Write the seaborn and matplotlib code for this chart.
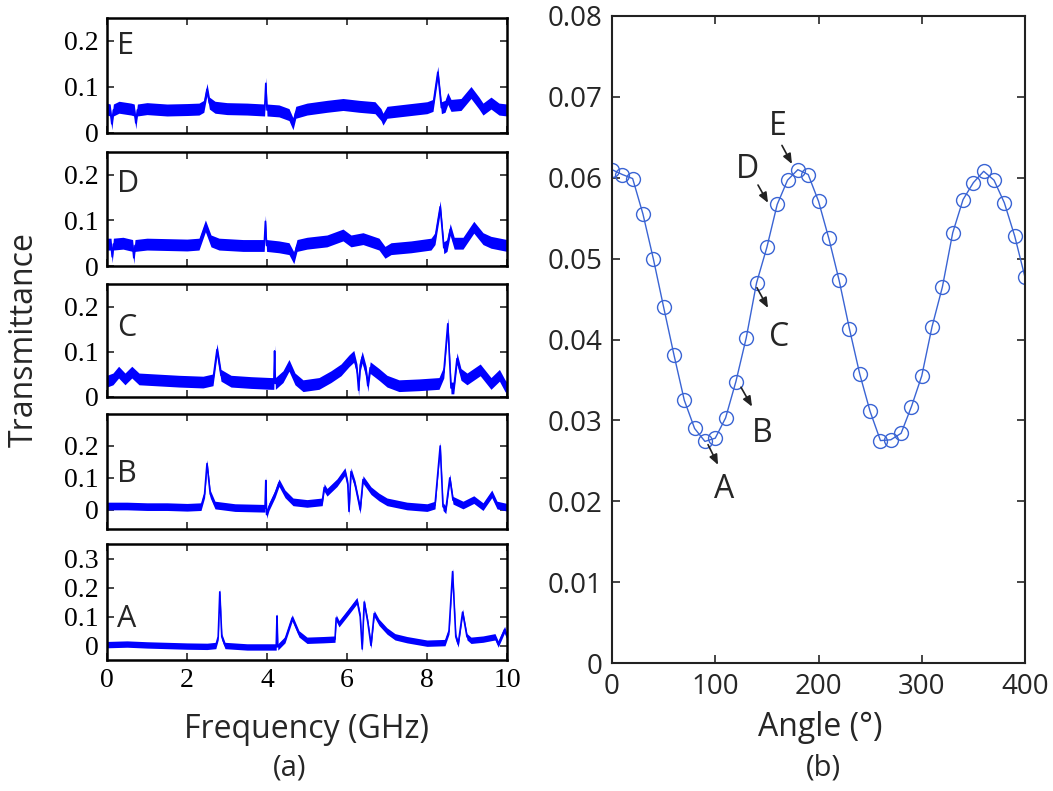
import numpy as np
import matplotlib
matplotlib.use("Agg")
import matplotlib.pyplot as plt
import seaborn as sns

# ---------------------------------
# Data
# ---------------------------------

freq_E = [0.0, 0.08, 0.12, 0.16, 0.3, 0.6, 0.68, 0.72, 0.76, 1.0, 1.5, 2.0, 2.3, 2.42, 2.5, 2.56, 2.7, 3.0,
          3.5, 3.94, 3.97, 4.0, 4.3, 4.55, 4.65, 4.72, 5.0, 5.5, 5.9, 6.3, 6.7, 6.85, 6.9, 7.0, 7.5, 8.0,
          8.15, 8.27, 8.36, 8.45, 8.52, 8.6, 8.85, 9.1, 9.3, 9.4, 9.6, 9.8, 10.0]
trans_E = [0.052, 0.05, 0.02, 0.05, 0.056, 0.052, 0.05, 0.022, 0.05, 0.053, 0.05, 0.051, 0.052, 0.058, 0.095,
           0.065, 0.056, 0.053, 0.052, 0.05, 0.108, 0.05, 0.048, 0.04, 0.02, 0.045, 0.052, 0.058, 0.062, 0.058,
           0.055, 0.04, 0.03, 0.045, 0.05, 0.055, 0.06, 0.132, 0.055, 0.058, 0.075, 0.06, 0.062, 0.088, 0.065,
           0.052, 0.065, 0.052, 0.05]

freq_D = [0.0, 0.1, 0.13, 0.16, 0.4, 0.64, 0.67, 0.7, 1.0, 1.5, 2.0, 2.3, 2.46, 2.6, 2.8, 3.4, 3.93, 3.96,
          3.99, 4.3, 4.55, 4.67, 4.75, 5.0, 5.5, 5.9, 6.1, 6.4, 6.8, 6.95, 7.1, 7.6, 8.1, 8.2, 8.33, 8.42,
          8.5, 8.58, 8.68, 8.9, 9.17, 9.4, 9.6, 10.0]
trans_D = [0.048, 0.048, 0.02, 0.048, 0.05, 0.045, 0.018, 0.045, 0.048, 0.047, 0.046, 0.048, 0.088, 0.055,
           0.048, 0.045, 0.045, 0.098, 0.045, 0.042, 0.038, 0.018, 0.045, 0.05, 0.055, 0.068, 0.055, 0.06,
           0.048, 0.03, 0.038, 0.042, 0.048, 0.06, 0.13, 0.04, 0.045, 0.08, 0.05, 0.05, 0.085, 0.06, 0.052,
           0.045]

freq_C = [0.0, 0.15, 0.29, 0.45, 0.62, 0.8, 1.2, 1.8, 2.4, 2.65, 2.75, 2.85, 3.1, 3.6, 4.1, 4.17, 4.19,
          4.21, 4.4, 4.55, 4.7, 4.9, 5.3, 5.6, 5.85, 6.05, 6.17, 6.25, 6.29, 6.33, 6.38, 6.48, 6.52, 6.58,
          6.8, 7.0, 7.3, 7.8, 8.3, 8.42, 8.52, 8.6, 8.67, 8.75, 8.85, 9.0, 9.33, 9.6, 9.81, 9.95, 10.0]
trans_C = [0.035, 0.04, 0.055, 0.04, 0.055, 0.04, 0.038, 0.035, 0.033, 0.038, 0.105, 0.048, 0.035, 0.032,
           0.03, 0.03, 0.102, 0.03, 0.045, 0.07, 0.04, 0.025, 0.03, 0.045, 0.06, 0.08, 0.09, 0.06, 0.015,
           0.07, 0.088, 0.055, 0.025, 0.065, 0.05, 0.035, 0.025, 0.027, 0.03, 0.055, 0.162, 0.02, 0.02,
           0.085, 0.05, 0.04, 0.06, 0.03, 0.048, 0.025, 0.02]

freq_B = [0.0, 0.5, 1.0, 1.5, 2.0, 2.35, 2.44, 2.5, 2.58, 2.7, 3.2, 3.9, 3.95, 3.97, 3.99, 4.05, 4.2, 4.3,
          4.45, 4.65, 5.0, 5.38, 5.43, 5.5, 5.75, 5.95, 6.02, 6.05, 6.1, 6.2, 6.3, 6.33, 6.4, 6.6, 6.8, 7.0,
          7.5, 8.0, 8.2, 8.33, 8.4, 8.47, 8.57, 8.65, 8.9, 9.17, 9.4, 9.62, 9.75, 10.0]
trans_B = [0.012, 0.012, 0.01, 0.01, 0.008, 0.01, 0.05, 0.145, 0.05, 0.015, 0.007, 0.005, 0.005, 0.092,
           -0.015, 0.01, 0.05, 0.085, 0.05, 0.025, 0.02, 0.025, 0.07, 0.055, 0.085, 0.12, 0.08, -0.005, 0.12,
           0.08, 0.02, 0.0, 0.095, 0.06, 0.04, 0.025, 0.012, 0.007, 0.015, 0.2, 0.01, 0.0, 0.1, 0.03, 0.015,
           0.032, 0.01, 0.05, 0.015, 0.008]

freq_A = [0.0, 0.5, 1.0, 1.5, 2.0, 2.5, 2.72, 2.78, 2.82, 2.87, 2.95, 3.5, 4.2, 4.23, 4.25, 4.27, 4.45,
          4.63, 4.8, 5.0, 5.4, 5.7, 5.73, 5.8, 6.0, 6.25, 6.33, 6.38, 6.43, 6.52, 6.6, 6.68, 6.8, 7.0, 7.2,
          7.5, 8.0, 8.45, 8.55, 8.64, 8.72, 8.78, 8.89, 9.0, 9.1, 9.4, 9.7, 9.78, 9.94, 10.0]
trans_A = [0.003, 0.005, 0.002, 0.0, -0.002, -0.003, 0.0, 0.03, 0.185, 0.03, 0.0, -0.005, -0.005, -0.005,
           0.102, -0.005, 0.02, 0.095, 0.04, 0.018, 0.02, 0.022, 0.095, 0.075, 0.11, 0.155, 0.1, -0.012,
           0.15, 0.08, 0.0, 0.11, 0.08, 0.05, 0.03, 0.02, 0.008, 0.01, 0.05, 0.255, 0.03, 0.005, 0.115,
           0.03, 0.018, 0.022, 0.03, 0.005, 0.055, 0.03]

angle = [0, 10, 20, 30, 40, 50, 60, 70, 80, 90, 100, 110, 120, 130, 140, 150, 160, 170, 180, 190, 200,
         210, 220, 230, 240, 250, 260, 270, 280, 290, 300, 310, 320, 330, 340, 350, 360, 370, 380, 390, 400]
trans_angle = [0.0610, 0.0604, 0.0599, 0.0555, 0.0500, 0.0440, 0.0381, 0.0325, 0.0290, 0.0274, 0.0278,
               0.0303, 0.0348, 0.0402, 0.0470, 0.0514, 0.0567, 0.0597, 0.0610, 0.0604, 0.0571, 0.0525,
               0.0473, 0.0413, 0.0357, 0.0311, 0.0275, 0.0276, 0.0284, 0.0317, 0.0355, 0.0416, 0.0465,
               0.0532, 0.0573, 0.0594, 0.0608, 0.0597, 0.0569, 0.0528, 0.0477]

panel_names = ["E", "D", "C", "B", "A"]
panel_freq = [freq_E, freq_D, freq_C, freq_B, freq_A]
panel_trans = [trans_E, trans_D, trans_C, trans_B, trans_A]
panel_ylim = [(0, 0.25), (0, 0.25), (0, 0.25), (-0.06, 0.3), (-0.05, 0.35)]
panel_yticks = [[0, 0.1, 0.2], [0, 0.1, 0.2], [0, 0.1, 0.2], [0, 0.1, 0.2], [0, 0.1, 0.2, 0.3]]
noise_half = [0.013, 0.013, 0.013, 0.012, 0.011]

# ---------------------------------
# Style
# ---------------------------------

sns.set_style("white")
plt.rcParams["font.family"] = ["Open Sans", "DejaVu Sans"]
text_color = "#262626"

fig = plt.figure(figsize=(10.53, 7.91), dpi=100)
H = 791.0

# ---------------------------------
# (a) stacked spectra
# ---------------------------------

tops = [18, 152, 284, 414, 544]
bottoms = [133, 266, 397, 529, 660]
letter_y = [0.76, 0.72, 0.61, 0.48, 0.35]
for i, name in enumerate(panel_names):
    ax = fig.add_axes([107 / 1053, (H - bottoms[i]) / H, 400 / 1053, (bottoms[i] - tops[i]) / H])
    x = np.array(panel_freq[i])
    y = np.array(panel_trans[i])
    ax.fill_between(x, y - noise_half[i], y + noise_half[i], color="#0000ff", lw=0)
    sns.lineplot(x=x, y=y, ax=ax, color="#0000ff", lw=1.2, sort=False, estimator=None)
    ax.set_xlim(0, 10)
    ax.set_ylim(*panel_ylim[i])
    ax.set_yticks(panel_yticks[i])
    ax.set_yticklabels(["0" if v == 0 else f"{v:.1f}" for v in panel_yticks[i]])
    ax.set_xticks([0, 2, 4, 6, 8, 10])
    if i == 4:
        ax.set_xticklabels(["0", "2", "4", "6", "8", "10"])
    else:
        ax.set_xticklabels([])
    ax.tick_params(direction="in", length=5, width=1.2, top=True, right=True, bottom=True,
                   left=True, pad=6, labelsize=20, labelcolor="black",
                   labelfontfamily="Liberation Serif")
    for s in ax.spines.values():
        s.set_linewidth(1.8)
        s.set_color("black")
    ax.set_xlabel("")
    ax.set_ylabel("")
    ax.text(0.025, letter_y[i], name, transform=ax.transAxes, fontsize=22,
            color=text_color, va="center", ha="left")

fig.text(24 / 1053, 1 - 340 / H, "Transmittance", rotation=90, fontsize=23,
         color=text_color, ha="center", va="center")
fig.text(307 / 1053, 1 - 730 / H, "Frequency (GHz)", fontsize=23, color=text_color,
         ha="center", va="center")
fig.text(290 / 1053, 1 - 768 / H, "(a)", fontsize=21, color=text_color, ha="center", va="center")

# ---------------------------------
# (b) transmittance vs angle
# ---------------------------------

axb = fig.add_axes([612 / 1053, (H - 663) / H, 413 / 1053, 647 / H])
sns.lineplot(x=angle, y=trans_angle, ax=axb, color="#3a64d4", lw=1.0, marker="o",
             markersize=10, markerfacecolor="none", markeredgecolor="#3a64d4", markeredgewidth=1.0)
axb.set_xlim(0, 400)
axb.set_ylim(0, 0.08)
axb.set_xticks([0, 100, 200, 300, 400])
axb.set_yticks([0, 0.01, 0.02, 0.03, 0.04, 0.05, 0.06, 0.07, 0.08])
axb.set_yticklabels(["0", "0.01", "0.02", "0.03", "0.04", "0.05", "0.06", "0.07", "0.08"])
axb.tick_params(direction="in", length=6, width=1.2, top=True, right=True, bottom=True, left=True,
                labelsize=20, labelcolor=text_color, pad=7)
for s in axb.spines.values():
    s.set_linewidth(1.5)
    s.set_color("#222222")
axb.set_xlabel("")
axb.set_ylabel("")

notes = [("E", (160.8, 0.0663), (164.6, 0.0640), (174.3, 0.0617)),
         ("D", (131.7, 0.0610), (141.4, 0.0591), (151.1, 0.0569)),
         ("C", (161.7, 0.0403), (140.4, 0.0464), (151.1, 0.0439)),
         ("B", (145.3, 0.0284), (124.9, 0.0341), (135.6, 0.0317)),
         ("A", (108.5, 0.0214), (93.0, 0.0270), (102.7, 0.0245))]
for lab, txt, tail, head in notes:
    axb.text(txt[0], txt[1], lab, fontsize=23, color=text_color, ha="center", va="center")
    axb.annotate("", xy=head, xytext=tail,
                 arrowprops=dict(arrowstyle="-|>,head_length=0.6,head_width=0.25", color="#222222",
                                 lw=1.2, shrinkA=0, shrinkB=0))

fig.text(820 / 1053, 1 - 727 / H, "Angle (°)", fontsize=23, color=text_color, ha="center", va="center")
fig.text(823 / 1053, 1 - 768 / H, "(b)", fontsize=21, color=text_color, ha="center", va="center")

plt.savefig("out.png", dpi=100)
